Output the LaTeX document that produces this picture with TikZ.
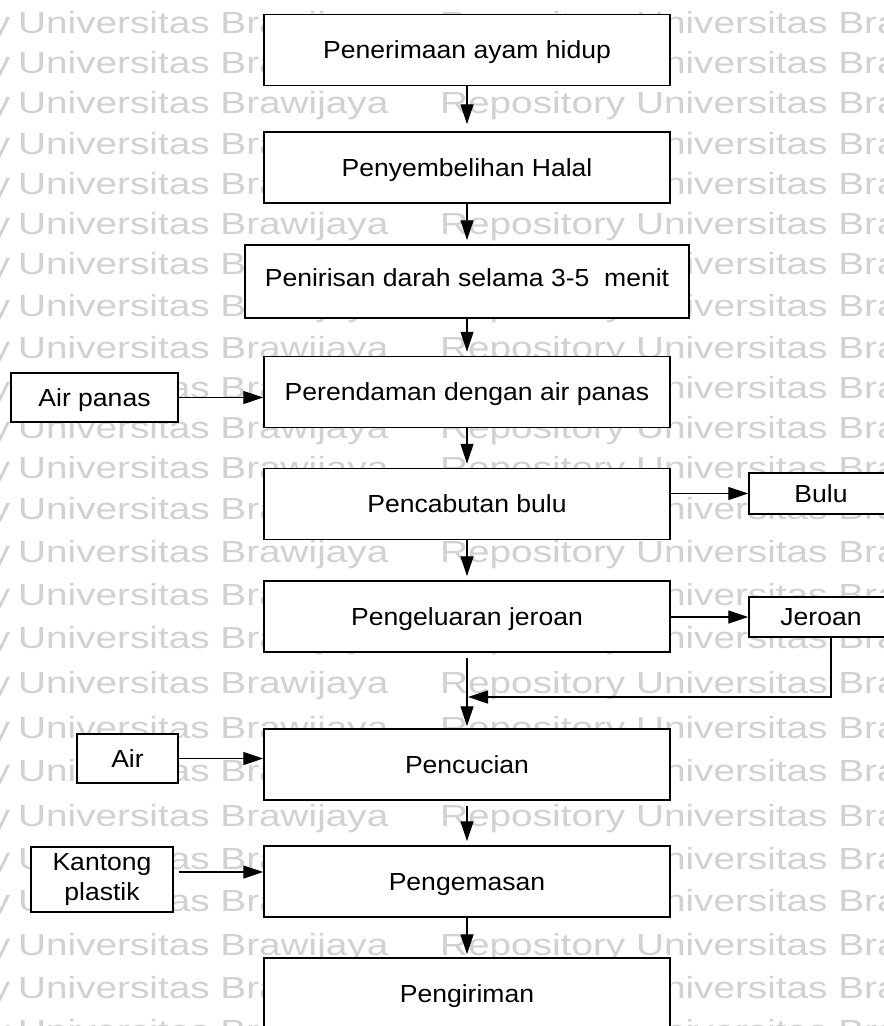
\documentclass[tikz,border=0pt]{standalone}
\usepackage{fontspec}
\setmainfont{Liberation Sans}[FakeStretch=1.075]
\newfontfamily\wmfont{Liberation Sans}[FakeStretch=1.27]
\usetikzlibrary{arrows.meta}

\begin{document}
\begin{tikzpicture}[x=1pt,y=-1pt,
  every node/.style={inner sep=0pt},
  wm/.style={font=\wmfont\fontsize{30.5}{36}\selectfont, text=black!18},
  txt/.style={font=\fontsize{24.7}{30}\selectfont},
  proc/.style={txt, draw, line width=1.5pt, fill=white,
    minimum width=406pt, minimum height=71pt, text height=17.7pt, text depth=0pt},
  side/.style={txt, draw, line width=1.5pt, fill=white,
    text height=17.7pt, text depth=0pt},
  arr/.style={line width=1.2pt, -{Triangle[length=20pt,width=13pt]}}
]
\useasboundingbox (0,0) rectangle (884,1026);
\fill[white] (0,0) rectangle (884,1026);

% background watermark rows
\foreach \yy [count=\k] in {-7,33,73,113,154,194,234,274,316,358,398,438,478,519,562,605,648,693,738,781,826,869,911,955,998,1041} {
  \node[wm, anchor=base east] (wmR\k) at (10.5,\yy) {Repository};
  \node[wm, anchor=base west] (wmU\k) at (18,\yy) {Universitas Brawijaya};
  \node[wm, anchor=base west] (wmV\k) at (440,\yy) {Repository Universitas Brawijaya};
}

% main process chain
\node[proc] (b1) at (467,50) {Penerimaan ayam hidup};
\node[proc] (b2) at (467,167.5) {Penyembelihan Halal};
\node[proc, minimum width=444pt, minimum height=73pt, text depth=8pt] (b3) at (467,281.5) {Penirisan darah selama 3-5\ \ menit};
\node[proc] (b4) at (467,392) {Perendaman dengan air panas};
\node[proc] (b5) at (467,504) {Pencabutan bulu};
\node[proc] (b6) at (467,616.5) {Pengeluaran jeroan};
\node[proc] (b7) at (467,764.5) {Pencucian};
\node[proc] (b8) at (467,881.5) {Pengemasan};
\node[proc] (b9) at (467,993.5) {Pengiriman};

% inputs and outputs
\node[side, minimum width=167pt, minimum height=49pt] (ap) at (94.5,397.5) {Air panas};
\node[side, minimum width=144pt, minimum height=41pt] (bulu) at (821,493.5) {Bulu};
\node[side, minimum width=144pt, minimum height=40pt] (jer) at (821,617) {Jeroan};
\node[side, minimum width=101pt, minimum height=49pt] (air) at (127.5,758.5) {Air};
\node[txt, draw, line width=1.5pt, fill=white, align=center,
  minimum width=142pt, minimum height=65pt] (kp) at (102,879.5) {Kantong\\plastik};

% vertical flow
\draw[arr, shorten >=7pt] (b1) -- (b2);
\draw[arr, shorten >=4pt] (b2) -- (b3);
\draw[arr, shorten >=4pt] (b3) -- (b4);
\draw[arr, shorten >=4pt] (b4) -- (b5);
\draw[arr, shorten >=4pt] (b5) -- (b6);
\draw[arr, shorten <=5pt, shorten >=2pt] (b6) -- (b7);
\draw[arr, shorten <=5pt, shorten >=4pt] (b7) -- (b8);
\draw[arr, shorten >=3pt] (b8) -- (b9);

% side connections
\draw[arr] (ap.east) -- (ap.east -| b4.west);
\draw[arr] (bulu.west -| b5.east) -- (bulu.west);
\draw[arr] (jer.west -| b6.east) -- (jer.west);
\coordinate (ret) at (468,697);
\draw[arr] ([xshift=10pt]jer.south) |- (ret);
\draw[arr] (air.east) -- (air.east -| b7.west);
\draw[arr, shorten <=5pt] ([yshift=7.5pt]kp.east) -- ([yshift=7.5pt]kp.east -| b8.west);
\end{tikzpicture}
\end{document}
